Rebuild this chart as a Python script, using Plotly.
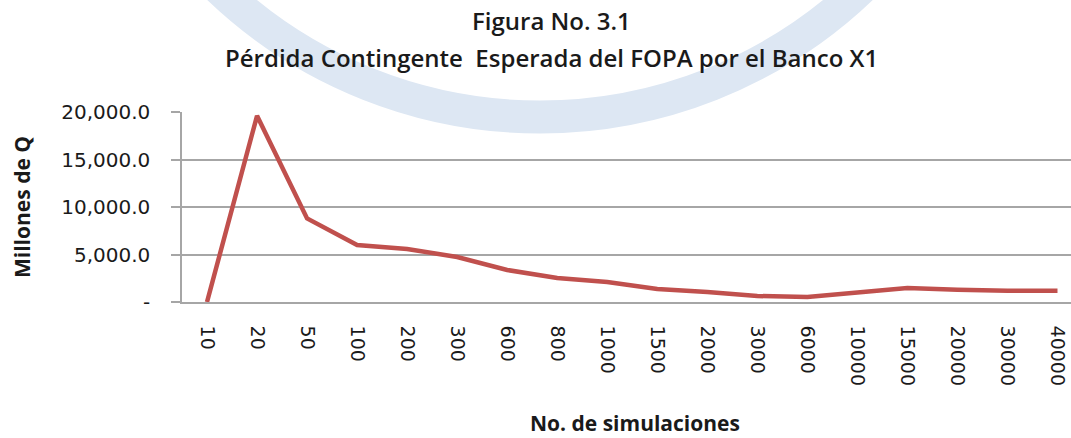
import plotly.graph_objects as go

categories = ["10", "20", "50", "100", "200", "300", "600", "800", "1000", "1500",
              "2000", "3000", "6000", "10000", "15000", "20000", "30000", "40000"]
perdida = [0, 19600, 8800, 6000, 5580, 4740, 3370, 2530, 2100, 1370,
           1050, 630, 530, 950, 1470, 1300, 1180, 1180]
y_tickvals = [0, 5000, 10000, 15000, 20000]
y_ticktext = ["-", "5,000.0", "10,000.0", "15,000.0", "20,000.0"]

W, H = 1071, 438
L, R, T, B = 182, 0, 112, 136
pw, ph = W - L - R, H - T - B

def px(x):
    return (x - L) / pw

def py(y):
    return (H - B - y) / ph

fig = go.Figure()
fig.add_trace(go.Scatter(x=categories, y=perdida, mode="lines",
                         line=dict(color="#C0504D", width=4.5), cliponaxis=False))

fig.update_layout(
    width=W, height=H,
    margin=dict(l=L, r=R, t=T, b=B, autoexpand=False),
    paper_bgcolor="white", plot_bgcolor="rgba(0,0,0,0)",
    showlegend=False,
    xaxis=dict(type="category", range=[-0.5, 17.27], showgrid=False, automargin=False,
               showline=True, linecolor="#A6A6A6", linewidth=1.5,
               ticks="", tickangle=90,
               tickfont=dict(family="DejaVu Sans", size=19, color="#1a1a1a"),
               ticklabelstandoff=18, zeroline=False),
    yaxis=dict(range=[0, 20000], tickvals=y_tickvals, ticktext=y_ticktext, automargin=False,
               showgrid=True, gridcolor="#A6A6A6", gridwidth=1.5,
               showline=True, linecolor="#A6A6A6", linewidth=1.5,
               ticks="outside", ticklen=9, tickcolor="#A6A6A6", tickwidth=1.5,
               tickfont=dict(family="DejaVu Sans", size=20, color="#1a1a1a"),
               ticklabelstandoff=17, zeroline=False),
)

# faint watermark ring behind the title
fig.add_shape(type="circle", xref="paper", yref="paper", layer="below",
              x0=px(75), x1=px(1005), y0=py(117), y1=py(-813),
              line=dict(color="#DDE7F3", width=33), fillcolor="rgba(0,0,0,0)")

title_font = dict(family="Open Sans", size=24, color="#1a1a1a", weight=600)
fig.add_annotation(text="Figura No. 3.1", xref="paper", yref="paper",
                   x=px(551), y=py(20), xanchor="center", yanchor="middle",
                   showarrow=False, font=title_font)
fig.add_annotation(text="Pérdida Contingente\u00a0 Esperada del FOPA por el Banco X1",
                   xref="paper", yref="paper",
                   x=px(551), y=py(57), xanchor="center", yanchor="middle",
                   showarrow=False, font=title_font)
fig.add_annotation(text="<b>No. de simulaciones</b>", xref="paper", yref="paper",
                   x=px(635), y=py(423), xanchor="center", yanchor="middle",
                   showarrow=False, font=dict(family="Open Sans", size=21, color="#1a1a1a"))
fig.add_annotation(text="<b>Millones de Q</b>", xref="paper", yref="paper",
                   x=px(22), y=py(207), xanchor="center", yanchor="middle",
                   textangle=-90, showarrow=False,
                   font=dict(family="Open Sans", size=21, color="#1a1a1a"))

fig.write_html("out.html", config={"displayModeBar": False},
               post_script="document.body.style.margin='0';document.body.style.overflow='hidden';")
